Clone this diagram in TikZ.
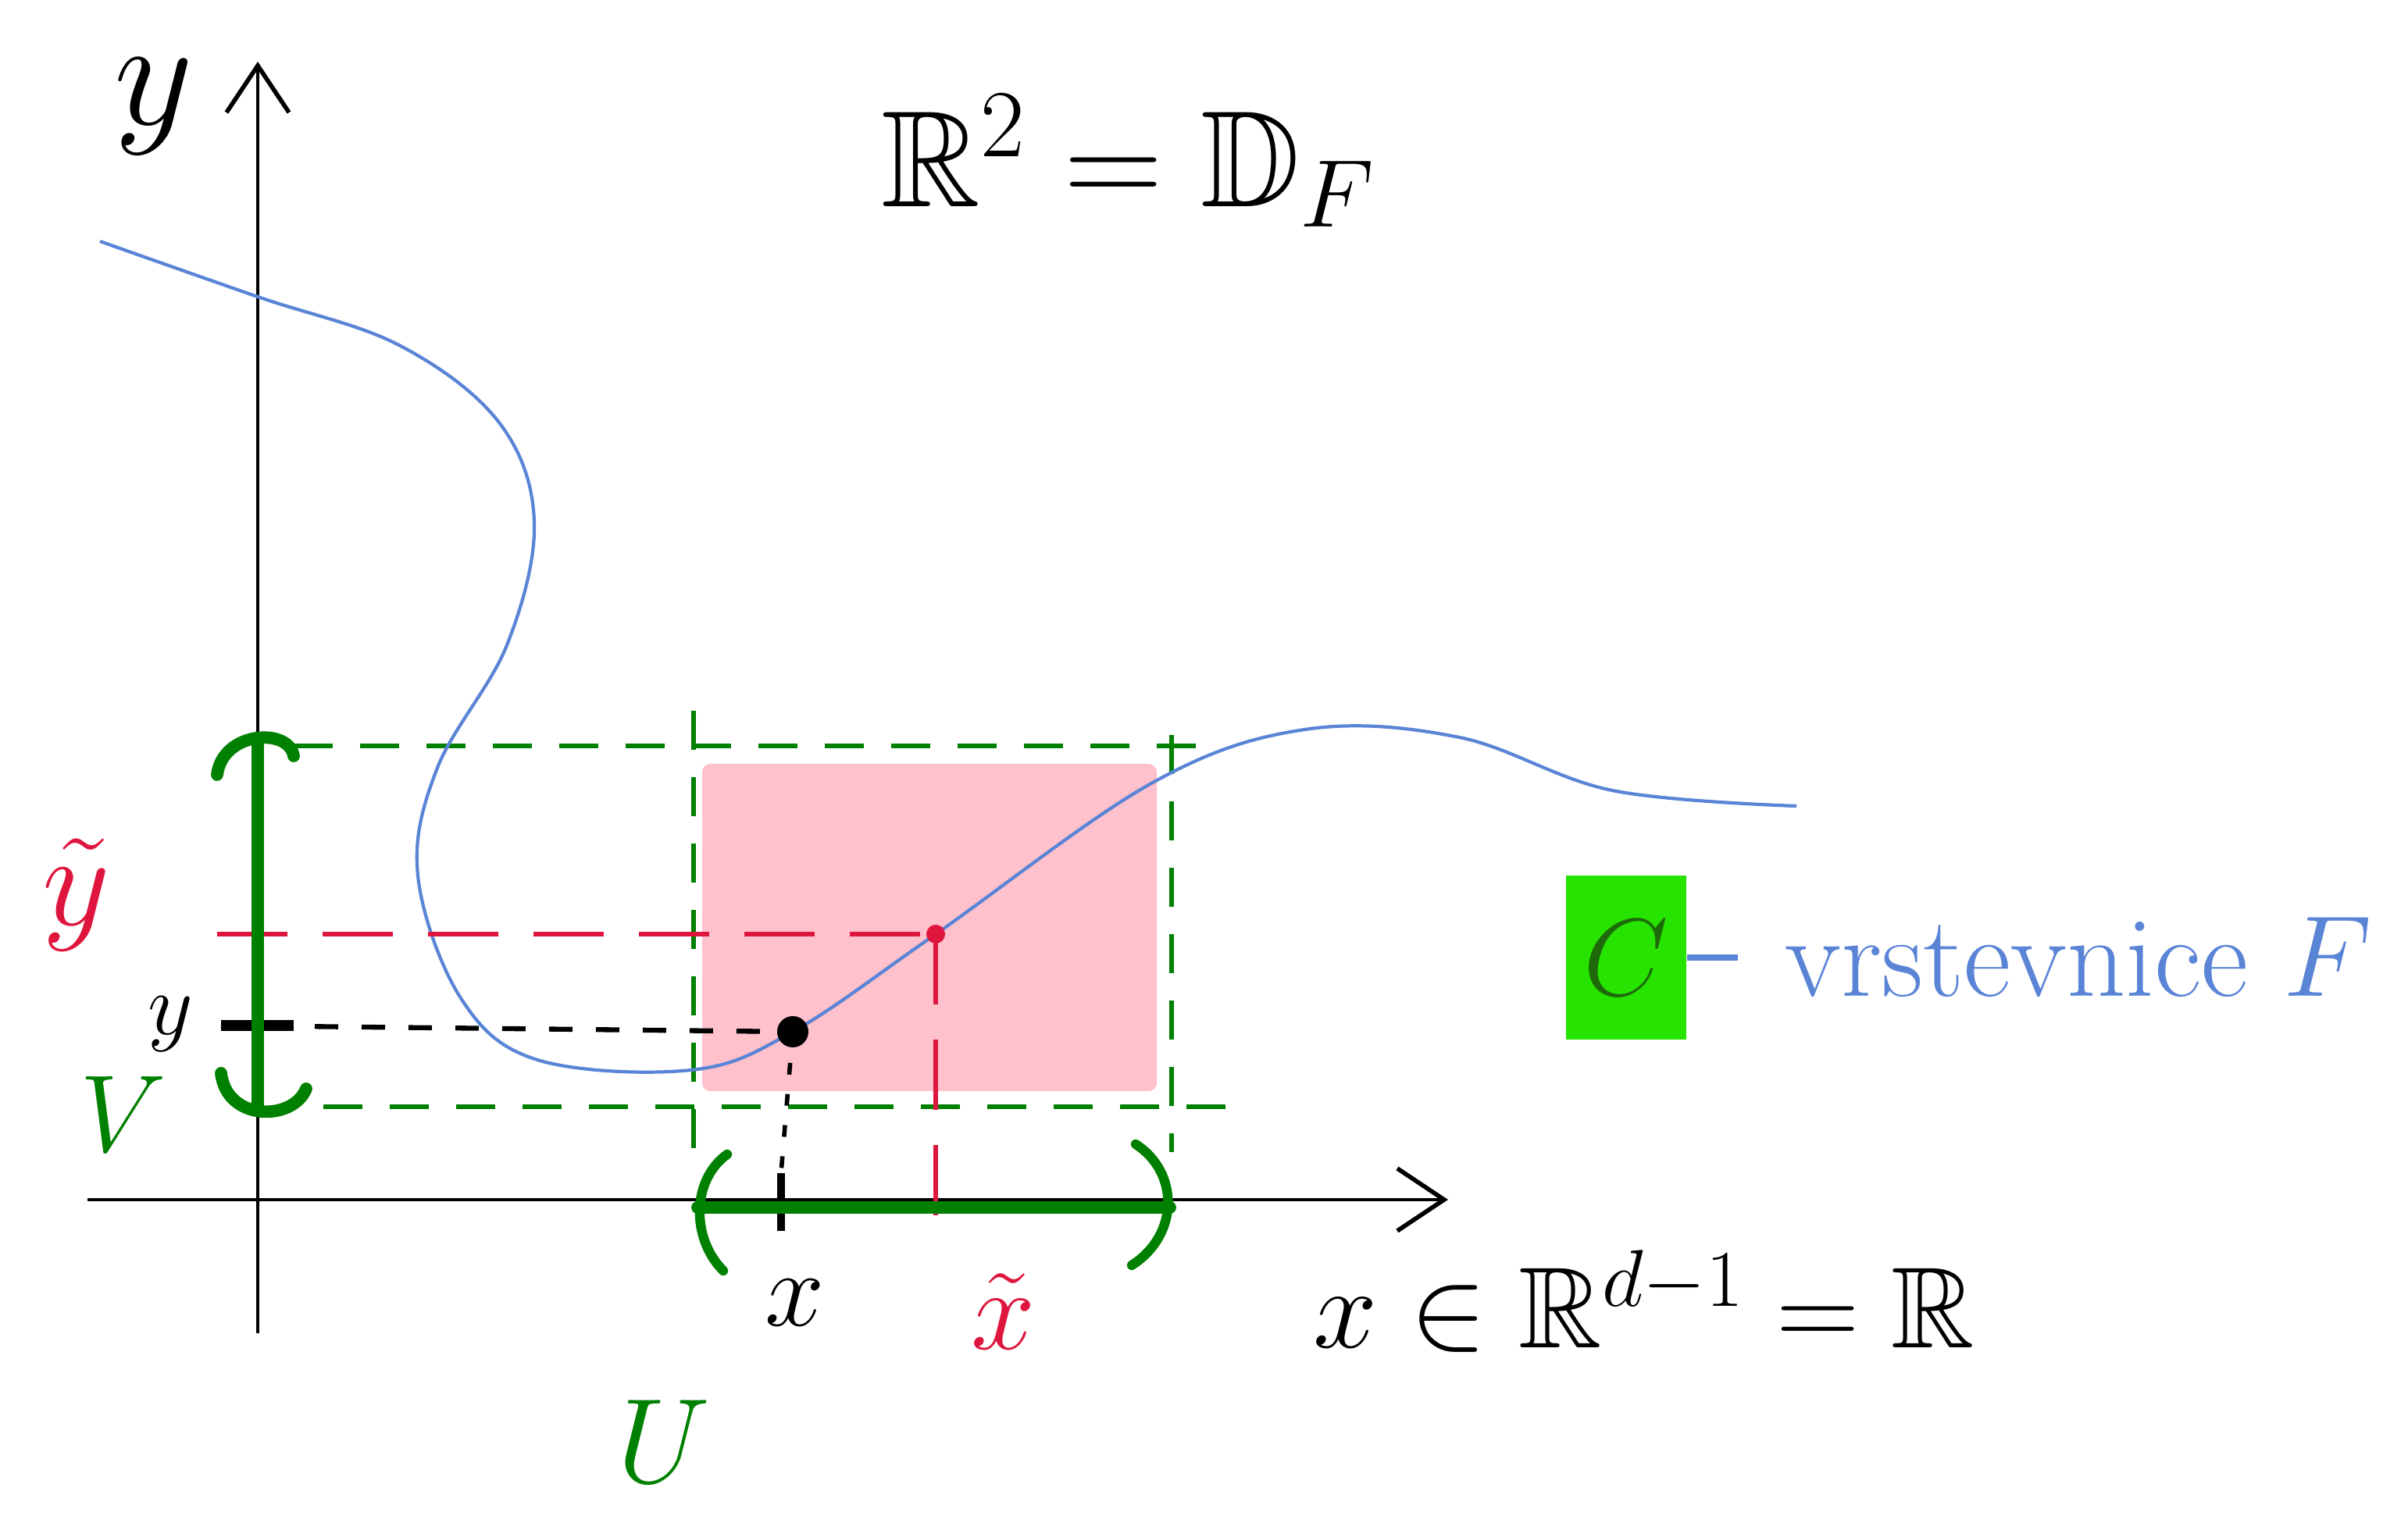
\documentclass[tikz,border=0pt]{standalone}
\usepackage{fix-cm}
\usepackage{amsmath,amssymb}
\usetikzlibrary{arrows.meta}
\definecolor{curveblue}{RGB}{90,132,214}
\definecolor{nbhdgreen}{RGB}{0,128,0}
\definecolor{boxgreen}{RGB}{38,228,0}
\definecolor{cdarkgreen}{RGB}{30,105,10}
\definecolor{tildered}{RGB}{222,22,62}
\definecolor{rectpink}{RGB}{255,193,204}
\newcommand{\hwsize}[1]{\fontsize{#1}{#1}\selectfont}
\tikzset{
  axx/.style       = {line width=1.2pt, black, -{Straight Barb[length=6mm,width=8mm,line width=1.6pt]}},
  levelset/.style  = {curveblue, line width=1.2pt},
  nbhd/.style      = {nbhdgreen, line width=1.8pt, dash pattern=on 5mm off 3.5mm},
  brack/.style     = {nbhdgreen, line width=4.5pt, line cap=round},
  tildeline/.style = {tildered, line width=1.8pt, dash pattern=on 9mm off 4.5mm},
  proj/.style      = {black, line width=1.8pt, dash pattern=on 3mm off 3mm},
  lbl/.style       = {inner sep=0pt},
}

\begin{document}
\begin{tikzpicture}

\useasboundingbox (0,0) rectangle (30.83,19.41);

% === pink box U x V ===
\fill[rectpink, rounded corners=3pt] (8.99,5.44) rectangle (14.81,9.63);

% === axes ===
\coordinate (xl) at (1.12,4.05);
\coordinate (xr) at (18.54,4.05);
\coordinate (yb) at (3.30,2.34);
\coordinate (yt) at (3.30,18.62);
\draw[axx] (xl) -- (xr);
\draw[axx] (yb) -- (yt);
\node[lbl, font=\hwsize{56}] (ylab) at (1.97,18.05) {$y$};

\node[lbl, font=\hwsize{50}] (space) at (14.45,17.35) {$\mathbb{R}^2 = \mathbb{D}_F$};
\node[lbl, font=\hwsize{42}] (xspace) at (21.05,2.75) {$x \in \mathbb{R}^{d-1} = \mathbb{R}$};

% === green dashed frame ===
\draw[nbhd] (3.76,9.86) -- (15.58,9.86);
\draw[nbhd] (4.14,5.24) -- (15.69,5.24);
\draw[nbhd] (8.88,10.31) -- (8.88,4.66);
\draw[nbhd] (15.00,10.00) -- (15.00,4.66);

% === level set ===
\draw[levelset] plot[smooth, tension=0.6] coordinates {
  (1.28,16.32) (3.30,15.61) (5.11,14.99) (6.39,14.00) (6.84,12.73)
  (6.49,11.15) (5.60,9.58) (5.35,8.20) (5.90,6.63) (6.88,5.84)
  (8.85,5.71) (10.15,6.20) (11.98,7.45) (14.74,9.38) (16.71,10.07)
  (18.68,9.97) (20.64,9.29) (23.00,9.09)};

% points (x,y) and (x~,y~)
\coordinate (pt) at (10.15,6.20);
\coordinate (ptt) at (11.98,7.45);

% === red projections ===
\coordinate (ytax) at (2.78,7.45);
\coordinate (xtax) at (11.98,3.68);
\draw[tildeline] (ytax) -- (ptt);
\draw[tildeline] (ptt) -- (xtax);
\fill[tildered] (ptt) circle (0.12);

% === black projections ===
\coordinate (yax) at (2.83,6.28);
\coordinate (yax2) at (3.76,6.28);
\coordinate (xax) at (10.00,4.39);
\coordinate (xax2) at (10.00,3.65);
\draw[proj] (yax) -- (pt);
\draw[black, line width=1.6pt, dash pattern=on 1.5mm off 2.5mm] (pt) -- (xax);
\draw[black, line width=4pt] (yax) -- (yax2);
\draw[black, line width=3pt] (xax) -- (xax2);
\fill[black] (pt) circle (0.2);

% === V bracket ===
\draw[brack] (3.30,5.20) -- (3.30,9.93);
\draw[brack] (2.78,9.49) .. controls (2.85,10.05) and (3.70,10.10) .. (3.76,9.73);
\draw[brack] (2.83,5.67) .. controls (2.90,5.05) and (3.75,5.05) .. (3.92,5.47);

% === U bracket ===
\draw[brack] (8.93,3.95) -- (14.98,3.95);
\draw[brack, line width=3.5pt] (9.31,4.63) .. controls (8.85,4.30) and (8.85,3.55) .. (9.26,3.14);
\draw[brack, line width=3.5pt] (14.54,4.76) .. controls (15.10,4.40) and (15.10,3.60) .. (14.49,3.21);

% === labels ===
\node[lbl, tildered, font=\hwsize{48}] (ytl) at (0.98,7.95) {$\tilde y$};
\node[lbl, font=\hwsize{32}] (ylbl) at (2.18,6.30) {$y$};
\node[lbl, nbhdgreen, font=\hwsize{40}] (Vlbl) at (1.58,5.15) {$V$};
\node[lbl, font=\hwsize{39}] (xlbl) at (10.18,2.73) {$x$};
\node[lbl, tildered, font=\hwsize{42}] (xtl) at (12.85,2.62) {$\tilde x$};
\node[lbl, nbhdgreen, font=\hwsize{44}] (Ulbl) at (8.50,0.95) {$U$};

% === level set C ===
\node[fill=boxgreen, minimum width=1.54cm, minimum height=2.1cm, inner sep=0pt,
      text=cdarkgreen, font=\hwsize{40}] (Cbox) at (20.82,7.15) {$C$};
\node[lbl, curveblue, anchor=west, font=\hwsize{42}] (vrst) at (22.85,7.15) {vrstevnice $F$};
\draw[curveblue, line width=2.5pt, shorten >=6mm] (Cbox.east) -- (vrst.west);

\end{tikzpicture}
\end{document}
